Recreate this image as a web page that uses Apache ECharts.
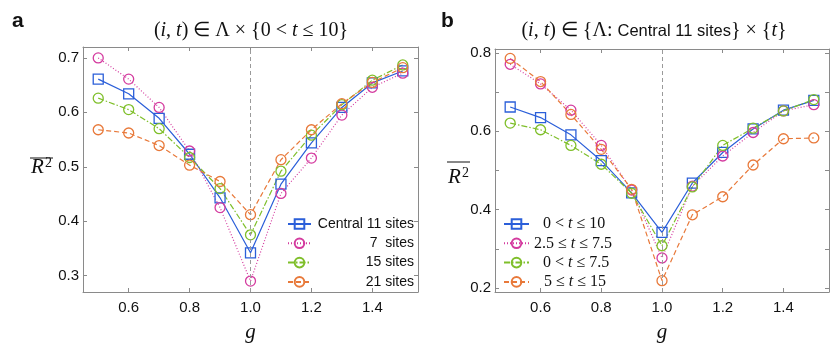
<!DOCTYPE html>
<html>
<head>
<meta charset="utf-8">
<script src="https://cdn.jsdelivr.net/npm/echarts@6/dist/echarts.min.js"></script>
<style>
html,body{margin:0;padding:0;background:#fff;}
#chart{width:830px;height:348px;}
</style>
</head>
<body>
<div id="chart"></div>
<script>
// ---- data ----
const gValues = [0.5, 0.6, 0.7, 0.8, 0.9, 1.0, 1.1, 1.2, 1.3, 1.4, 1.5];

// panel a
const leftNames = ['Central 11 sites', '7  sites', '15 sites', '21 sites'];
const leftCentral11 = [0.661, 0.634, 0.589, 0.523, 0.443, 0.342, 0.468, 0.544, 0.609, 0.654, 0.676];
const leftSites7    = [0.700, 0.661, 0.609, 0.529, 0.425, 0.290, 0.451, 0.516, 0.595, 0.646, 0.672];
const leftSites15   = [0.626, 0.605, 0.570, 0.517, 0.460, 0.375, 0.492, 0.558, 0.614, 0.659, 0.687];
const leftSites21   = [0.568, 0.562, 0.539, 0.503, 0.473, 0.412, 0.513, 0.568, 0.616, 0.655, 0.682];

// panel b
const rightNames = ['0 < t ≤ 10', '2.5 ≤ t ≤ 7.5', '0 < t ≤ 7.5', '5 ≤ t ≤ 15'];
const rightT0to10    = [0.662, 0.635, 0.591, 0.525, 0.443, 0.342, 0.468, 0.546, 0.606, 0.654, 0.679];
const rightT2p5to7p5 = [0.771, 0.721, 0.654, 0.564, 0.450, 0.277, 0.460, 0.537, 0.597, 0.652, 0.668];
const rightT0to7p5   = [0.621, 0.604, 0.564, 0.516, 0.442, 0.308, 0.458, 0.564, 0.608, 0.652, 0.681];
const rightT5to15    = [0.786, 0.727, 0.643, 0.554, 0.452, 0.219, 0.387, 0.433, 0.514, 0.581, 0.583];

// ticks
const xTickLabels = [0.6, 0.8, 1.0, 1.2, 1.4];
const leftYTicks = [0.3, 0.4, 0.5, 0.6, 0.7];
const leftYLabels = [0.3, 0.4, 0.5, 0.6, 0.7];
const rightYTicks = [0.2, 0.3, 0.4, 0.5, 0.6, 0.7, 0.8];
const rightYLabels = [0.2, 0.4, 0.6, 0.8];
const criticalG = 1.0;

// ---- styling ----
const C = { blue: '#2b5fd9', magenta: '#d43b9f', green: '#7fbf2a', orange: '#e8793a' };
const frameColor = '#8a8a8a';
const sans = 'Liberation Sans, Arial, sans-serif';
const serif = 'Liberation Serif, Times New Roman, serif';

function pairs(arr) { return gValues.map((g, i) => [g, arr[i]]); }

function mkSeries(name, arr, color, dash, symbol, xi, yi, extra) {
  const s = {
    name: name, type: 'line', xAxisIndex: xi, yAxisIndex: yi,
    data: pairs(arr),
    symbol: symbol, symbolSize: 10,
    lineStyle: { color: color, width: 1.2, type: dash },
    itemStyle: { color: 'rgba(255,255,255,0)', borderColor: color, borderWidth: 1.3 },
    color: color,
    animation: false, silent: true
  };
  return Object.assign(s, extra || {});
}

const vline = {
  markLine: {
    silent: true, symbol: ['none', 'none'], label: { show: false },
    lineStyle: { color: '#9a9a9a', type: [4, 3], width: 1 },
    data: [{ xAxis: criticalG }], animation: false
  }
};

function xAx(gi, pos, labels) {
  return {
    type: 'value', gridIndex: gi, position: pos, min: 0.45, max: 1.55,
    axisLine: { show: true, onZero: false, lineStyle: { color: frameColor, width: 1 } },
    axisTick: { show: true, inside: true, length: 4, customValues: xTickLabels, lineStyle: { color: frameColor } },
    axisLabel: { show: labels, customValues: xTickLabels, formatter: v => v.toFixed(1), margin: 8,
      fontFamily: sans, fontSize: 15, color: '#111' },
    splitLine: { show: false },
    name: labels ? 'g' : '', nameLocation: 'middle', nameGap: 30,
    nameTextStyle: { fontFamily: serif, fontStyle: 'italic', fontSize: 21, color: '#111' }
  };
}
function yAx(gi, pos, min, max, ticks, labelsArr, labels) {
  return {
    type: 'value', gridIndex: gi, position: pos, min: min, max: max,
    axisLine: { show: true, onZero: false, lineStyle: { color: frameColor, width: 1 } },
    axisTick: { show: true, inside: true, length: 4, customValues: ticks, lineStyle: { color: frameColor } },
    axisLabel: { show: labels, customValues: labelsArr, formatter: v => v.toFixed(1), margin: 4,
      fontFamily: sans, fontSize: 15, color: '#111' },
    splitLine: { show: false }
  };
}

const chart = echarts.init(document.getElementById('chart'), null, { renderer: 'canvas' });

// extra gap before legend text in panel b (px)
const rightSpacer = { '0 < t ≤ 10': 9, '2.5 ≤ t ≤ 7.5': 0, '0 < t ≤ 7.5': 9, '5 ≤ t ≤ 15': 10 };
const spacerRich = {};
Object.keys(rightSpacer).forEach(k => { if (rightSpacer[k] > 0) spacerRich['s' + rightSpacer[k]] = { width: rightSpacer[k], fontSize: 16, lineHeight: 17 }; });

const option = {
  backgroundColor: '#fff',
  animation: false,
  grid: [
    { left: 83, top: 47, width: 335, height: 250 },
    { left: 495, top: 49, width: 334, height: 248 }
  ],
  xAxis: [ xAx(0, 'bottom', true), xAx(0, 'top', false), xAx(1, 'bottom', true), xAx(1, 'top', false) ],
  yAxis: [
    yAx(0, 'left', 0.27, 0.72, leftYTicks, leftYLabels, true),
    yAx(0, 'right', 0.27, 0.72, leftYTicks, leftYLabels, false),
    yAx(1, 'left', 0.19, 0.81, rightYTicks, rightYLabels, true),
    yAx(1, 'right', 0.19, 0.81, rightYTicks, rightYLabels, false)
  ],
  legend: [
    {
      data: leftNames, orient: 'vertical', left: 282, top: 210.5, padding: 5,
      itemWidth: 23, itemHeight: 12, itemGap: 2.3, selectedMode: false,
      formatter: n => '{r|' + n + '}',
      textStyle: { fontFamily: sans, fontSize: 14, lineHeight: 17, color: '#111',
        rich: { r: { width: 98, align: 'right', fontFamily: sans, fontSize: 14, lineHeight: 17 } } }
    },
    {
      data: rightNames, orient: 'vertical', left: 498, top: 210.5, padding: 5,
      itemWidth: 25, itemHeight: 12, itemGap: 2.3, selectedMode: false,
      formatter: n => (rightSpacer[n] > 0 ? '{s' + rightSpacer[n] + '| }' : '') + n.replace('t', '{it|t}'),
      textStyle: { fontFamily: serif, fontSize: 16, lineHeight: 17, color: '#111',
        rich: Object.assign({ it: { fontFamily: serif, fontStyle: 'italic', fontSize: 16, lineHeight: 17 } }, spacerRich) }
    }
  ],
  series: [
    mkSeries(leftNames[0], leftCentral11, C.blue, 'solid', 'rect', 0, 0, vline),
    mkSeries(leftNames[1], leftSites7, C.magenta, [1, 2], 'circle', 0, 0),
    mkSeries(leftNames[2], leftSites15, C.green, [6, 2, 1.5, 2], 'circle', 0, 0),
    mkSeries(leftNames[3], leftSites21, C.orange, [5, 3], 'circle', 0, 0),
    mkSeries(rightNames[0], rightT0to10, C.blue, 'solid', 'rect', 2, 2, vline),
    mkSeries(rightNames[1], rightT2p5to7p5, C.magenta, [1, 2], 'circle', 2, 2),
    mkSeries(rightNames[2], rightT0to7p5, C.green, [6, 2, 1.5, 2], 'circle', 2, 2),
    mkSeries(rightNames[3], rightT5to15, C.orange, [5, 3], 'circle', 2, 2)
  ],
  graphic: [
    { type: 'text', left: 12, top: 11, style: { text: 'a', font: 'bold 21px ' + sans, fill: '#111' } },
    { type: 'text', left: 441, top: 11, style: { text: 'b', font: 'bold 21px ' + sans, fill: '#111' } },
    { type: 'text', x: 251, y: 31, style: {
        text: '({i|i}, {i|t}) ∈ Λ × {0 < {i|t} ≤ 10}',
        font: '20px ' + serif, fill: '#111', align: 'center', verticalAlign: 'middle',
        rich: { i: { fontFamily: serif, fontStyle: 'italic', fontSize: 20 } } } },
    { type: 'text', x: 654, y: 31, style: {
        text: '({i|i}, {i|t}) ∈ {Λ: {a|Central 11 sites}} × {{i|t}}',
        font: '20px ' + serif, fill: '#111', align: 'center', verticalAlign: 'middle',
        rich: { i: { fontFamily: serif, fontStyle: 'italic', fontSize: 20 }, a: { fontFamily: sans, fontSize: 16.5 } } } },
    // y-axis labels (R^2 with overline)
    { type: 'text', x: 31, y: 178, style: { text: 'R', font: 'italic 21px ' + serif, fill: '#111', verticalAlign: 'bottom' } },
    { type: 'text', x: 45, y: 170, style: { text: '2', font: '14px ' + serif, fill: '#111', verticalAlign: 'bottom' } },
    { type: 'line', shape: { x1: 30, y1: 158, x2: 53, y2: 158 }, style: { stroke: '#111', lineWidth: 1 } },
    { type: 'text', x: 448, y: 188, style: { text: 'R', font: 'italic 21px ' + serif, fill: '#111', verticalAlign: 'bottom' } },
    { type: 'text', x: 462, y: 180, style: { text: '2', font: '14px ' + serif, fill: '#111', verticalAlign: 'bottom' } },
    { type: 'line', shape: { x1: 447, y1: 162, x2: 470, y2: 162 }, style: { stroke: '#111', lineWidth: 1 } }
  ]
};
chart.setOption(option);
</script>
</body>
</html>
